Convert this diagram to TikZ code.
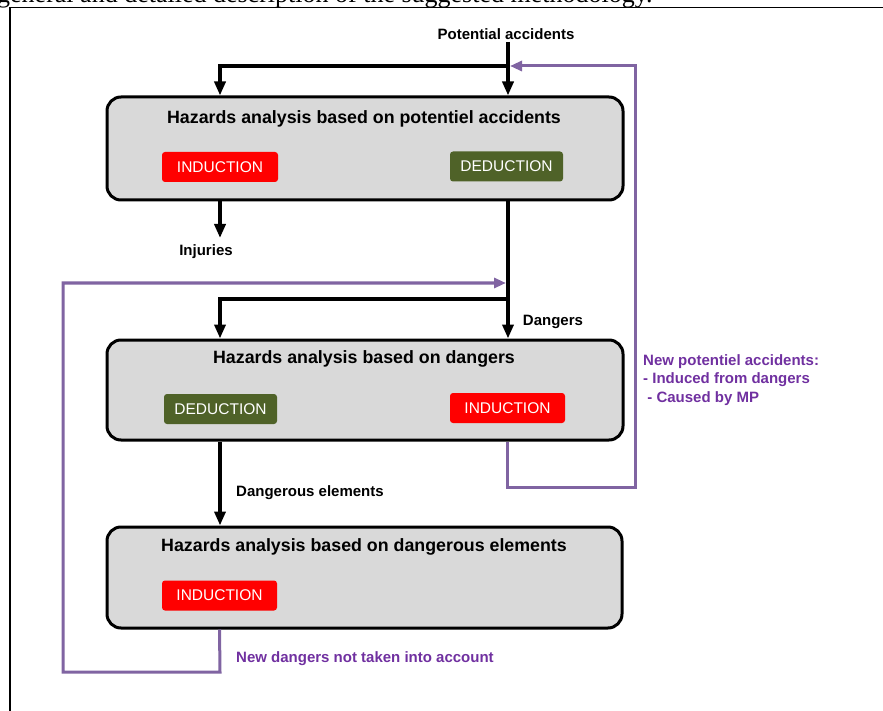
\documentclass[tikz,border=0pt]{standalone}
\usepackage{fontspec}
\setmainfont{Liberation Sans}
\newfontfamily\serifft{Liberation Serif}
\usetikzlibrary{arrows.meta}
\definecolor{boxgray}{HTML}{D9D9D9}
\definecolor{indred}{HTML}{FF0000}
\definecolor{dedgreen}{HTML}{4F6228}
\definecolor{loopline}{HTML}{8064A2}
\definecolor{looptext}{HTML}{7030A0}
\begin{document}
\begin{tikzpicture}[x=1pt,y=-1pt,
  stage/.style={draw=black, line width=3pt, fill=boxgray, rounded corners=14pt, inner sep=0pt},
  stagetitle/.style={font=\bfseries\fontsize{17.8}{20}\selectfont, inner sep=0pt},
  tag/.style={rounded corners=3pt, text=white, minimum height=30pt, inner sep=0pt, font=\fontsize{15.5}{17}\selectfont},
  indtag/.style={tag, fill=indred},
  dedtag/.style={tag, fill=dedgreen},
  flowline/.style={draw=black, line width=4pt},
  flowarrow/.style={flowline, -{Triangle[width=11pt,length=14pt]}},
  loopline/.style={draw=loopline, line width=3pt},
  looparrow/.style={loopline, -{Triangle[width=10pt,length=12pt]}},
  lbl/.style={font=\bfseries\fontsize{15}{18.5}\selectfont, inner sep=0pt},
  looplbl/.style={lbl, text=looptext, align=left}
]
\useasboundingbox (0,0) rectangle (883,711);
% cropped caption text and frame
\node[anchor=base west, inner sep=0pt, font=\serifft\fontsize{26}{28}\selectfont] (cap) at (-3,3) {general and detailed description of the suggested methodology.};
\draw[line width=1.5pt] (10,711) -- (10,7.5) -- (883,7.5);

% stages
\node[stage, minimum width=516pt, minimum height=103pt] (b1) at (365,148.5) {};
\node[stagetitle] (t1) at (364,119) {Hazards analysis based on potentiel accidents};
\node[indtag, minimum width=116pt] (i1) at (220,167) {INDUCTION};
\node[dedtag, minimum width=113pt] (d1) at (506.5,166.5) {DEDUCTION};

\node[stage, minimum width=516pt, minimum height=100pt] (b2) at (365,390) {};
\node[stagetitle] (t2) at (364,359) {Hazards analysis based on dangers};
\node[dedtag, minimum width=113pt] (d2) at (220.5,409) {DEDUCTION};
\node[indtag, minimum width=115pt] (i2) at (507.5,408) {INDUCTION};

\node[stage, minimum width=515pt, minimum height=101pt] (b3) at (364.5,577.5) {};
\node[stagetitle] (t3) at (364,547) {Hazards analysis based on dangerous elements};
\node[indtag, minimum width=115pt] (i3) at (219.5,595.5) {INDUCTION};

% labels
\node[lbl] (lpa) at (506,34) {Potential accidents};
\node[lbl] (linj) at (206,252) {Injuries};
\node[lbl] (ldan) at (553,322) {Dangers};
\node[lbl, anchor=west] (lde) at (236,493) {Dangerous elements};
\node[looplbl, anchor=west] (lnp) at (643,380) {New potentiel accidents:\\- Induced from dangers\\\ - Caused by MP};
\node[looplbl, anchor=west] (lnd) at (236,659) {New dangers not taken into account};

% black flow
\coordinate (j1) at (508,66);
\coordinate (l1) at (220,66);
\coordinate (j2) at (508,299);
\coordinate (l2) at (220,299);
\coordinate (pa) at (508,42);
\draw[flowarrow] (pa) -- (j1 |- b1.north);
\draw[flowarrow, line join=miter] (j1) -- (l1) -- (l1 |- b1.north);
\draw[flowarrow] (l1 |- b1.south) -- (220,238);
\draw[flowline] (j1 |- b1.south) -- (j2);
\draw[flowarrow] (j2) -- (j2 |- b2.north);
\draw[flowarrow, line join=miter] (j2) -- (l2) -- (l2 |- b2.north);
\draw[flowarrow] (l2 |- b2.south) -- (l2 |- b3.north);

% purple feedback loops
\coordinate (pr1) at (635,487);
\coordinate (pr2) at (635,66);
\coordinate (pe1) at (510,66);
\draw[looparrow, line join=miter] (i2 |- b2.south) -- (i2.south |- pr1) -- (pr1) -- (pr2) -- (pe1);
\coordinate (ql1) at (220,672);
\coordinate (ql2) at (63,672);
\coordinate (ql3) at (63,283);
\coordinate (qe) at (506,283);
\draw[looparrow, line join=miter] (i3 |- b3.south) -- (ql1) -- (ql2) -- (ql3) -- (qe);
\end{tikzpicture}
\end{document}
